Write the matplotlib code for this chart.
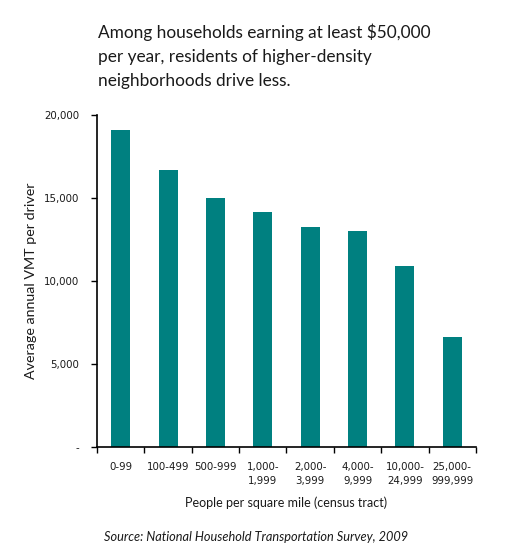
import matplotlib
matplotlib.use("Agg")
import matplotlib.pyplot as plt
import numpy as np

categories = ['0-99', '100-499', '500-999', '1,000-\n1,999', '2,000-\n3,999',
              '4,000-\n9,999', '10,000-\n24,999', '25,000-\n999,999']
vmt = [19100, 16700, 15000, 14150, 13270, 13020, 10920, 6630]
yticks = [0, 5000, 10000, 15000, 20000]
ytick_labels = ['-', '5,000', '10,000', '15,000', '20,000']

bar_color = '#008080'
text_color = '#1a1a1a'

fig = plt.figure(figsize=(5.06, 5.52), dpi=100)
ax = fig.add_axes([0.1917, 0.1902, 0.749, 0.6015])

x = np.arange(len(categories))
ax.bar(x, vmt, width=0.4, color=bar_color)

ax.set_xlim(-0.5, len(categories) - 0.5)
ax.set_ylim(0, 20000)

# labels on the categories, tick marks between them
ax.set_xticks(x)
ax.set_xticklabels(categories, fontsize=7.4, color=text_color, linespacing=1.5)
ax.tick_params(axis='x', which='major', length=0, pad=11)
ax.set_xticks(np.arange(-0.5, len(categories)), minor=True)
ax.tick_params(axis='x', which='minor', length=4.5, width=1, direction='out')

ax.set_yticks(yticks)
ax.set_yticklabels(ytick_labels, fontsize=7.4, color=text_color)
ax.tick_params(axis='y', length=4, width=1, direction='out', pad=9)

for side in ['top', 'right']:
    ax.spines[side].set_visible(False)
for side in ['left', 'bottom']:
    ax.spines[side].set_linewidth(1.2)
    ax.spines[side].set_color('black')

ax.set_ylabel('Average annual VMT per driver', fontsize=10.3, family='Lato',
              color=text_color, labelpad=5)
ax.set_xlabel('People per square mile (census tract)', fontsize=9,
              family='Lato', color=text_color, labelpad=7)

fig.text(0.1937, 0.958, 'Among households earning at least $50,000\n'
         'per year, residents of higher-density\nneighborhoods drive less.',
         fontsize=12.4, family='Lato', color=text_color, va='top', ha='left',
         linespacing=1.62)

fig.text(0.506, 0.027, 'Source: National Household Transportation Survey, 2009',
         fontsize=9.2, family='Lato', style='italic', color=text_color,
         ha='center', va='center')

fig.savefig('out.png', dpi=100)
